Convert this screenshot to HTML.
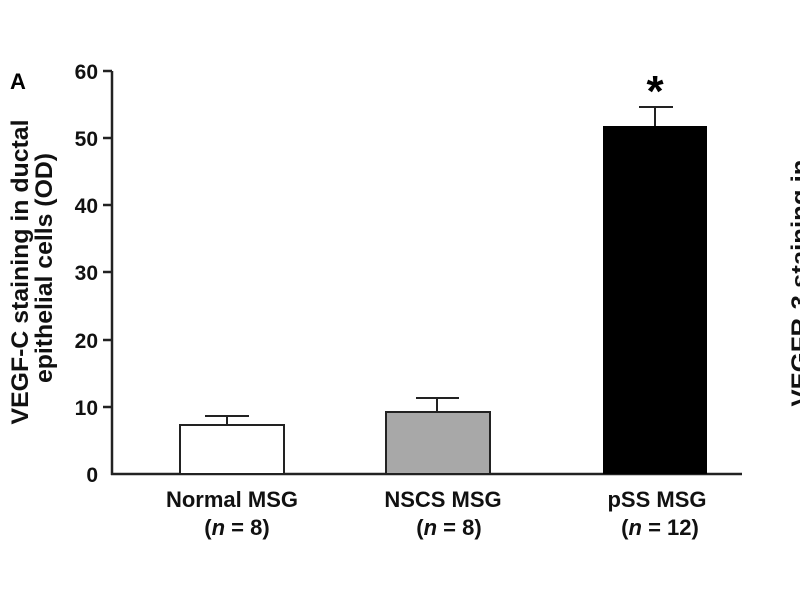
<!DOCTYPE html>
<html><head><style>body{margin:0;background:#fff}</style></head><body>
<svg width="800" height="600" xmlns="http://www.w3.org/2000/svg" font-family="Liberation Sans, Arial, sans-serif" font-weight="bold">
<rect width="800" height="600" fill="#fff"/>
<text x="10" y="89" font-size="22">A</text>
<g stroke="#222" stroke-width="2.5" fill="none">
<line x1="112" y1="71" x2="112" y2="475"/>
<line x1="111" y1="474" x2="742" y2="474"/>
<line x1="103" y1="71" x2="112" y2="71"/>
<line x1="103" y1="138" x2="112" y2="138"/>
<line x1="103" y1="205" x2="112" y2="205"/>
<line x1="103" y1="272" x2="112" y2="272"/>
<line x1="103" y1="340" x2="112" y2="340"/>
<line x1="103" y1="407" x2="112" y2="407"/>
</g>
<g font-size="21" text-anchor="end" fill="#111">
<text x="98" y="79">60</text><text x="98" y="146">50</text><text x="98" y="213">40</text>
<text x="98" y="280">30</text><text x="98" y="348">20</text><text x="98" y="415">10</text><text x="98" y="482">0</text>
</g>
<g font-size="24" fill="#111" text-anchor="middle">
<text transform="translate(28,272) rotate(-90)" textLength="305" lengthAdjust="spacingAndGlyphs">VEGF-C staining in ductal</text>
<text transform="translate(52,268) rotate(-90)" textLength="230" lengthAdjust="spacingAndGlyphs">epithelial cells (OD)</text>
<text transform="translate(808,283) rotate(-90)" textLength="247" lengthAdjust="spacingAndGlyphs">VEGFR-3 staining in</text>
</g>
<g stroke="#222" stroke-width="2">
<line x1="227" y1="425" x2="227" y2="416"/><line x1="205" y1="416" x2="249" y2="416"/>
<line x1="437" y1="412" x2="437" y2="398"/><line x1="416" y1="398" x2="459" y2="398"/>
<line x1="655" y1="126" x2="655" y2="107"/><line x1="639" y1="107" x2="673" y2="107"/>
</g>
<rect x="180" y="425" width="104" height="49" fill="#fff" stroke="#222" stroke-width="2"/>
<rect x="386" y="412" width="104" height="62" fill="#a8a8a8" stroke="#222" stroke-width="2"/>
<rect x="603" y="126" width="104" height="348" fill="#000"/>
<text x="655" y="106" font-size="44" text-anchor="middle">*</text>
<g font-size="22" fill="#111" text-anchor="middle">
<text x="232" y="507">Normal MSG</text><text x="237" y="535">(<tspan font-style="italic">n</tspan> = 8)</text>
<text x="443" y="507">NSCS MSG</text><text x="449" y="535">(<tspan font-style="italic">n</tspan> = 8)</text>
<text x="657" y="507">pSS MSG</text><text x="660" y="535">(<tspan font-style="italic">n</tspan> = 12)</text>
</g>
</svg>
</body></html>
